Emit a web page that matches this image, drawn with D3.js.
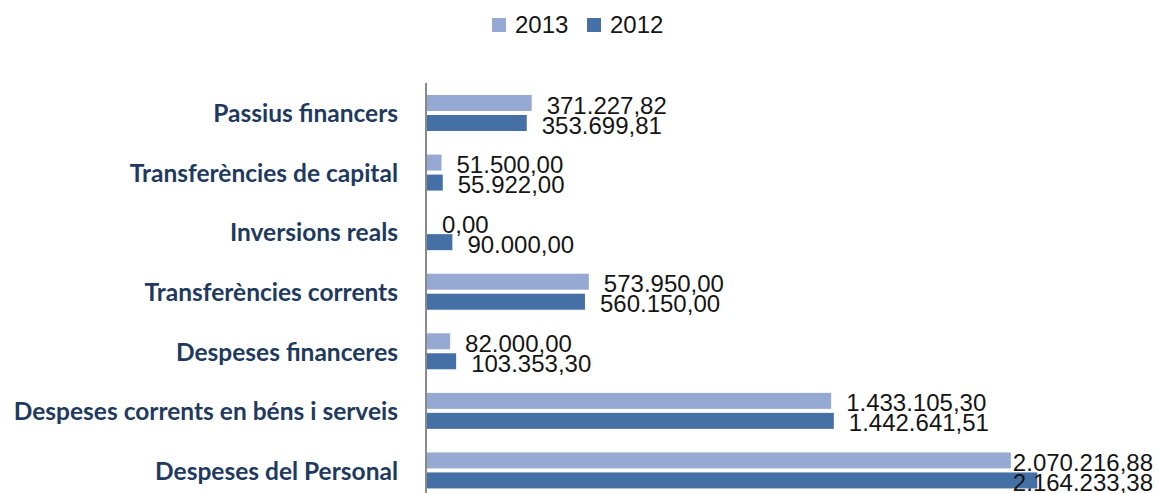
<!DOCTYPE html>
<html><head><meta charset="utf-8">
<script src="https://cdn.jsdelivr.net/npm/d3@7"></script>
<style>body{margin:0;background:#fff}svg{display:block}</style>
</head><body>
<svg id="c" width="1159" height="493"></svg>
<script>
const categories = ["Passius financers","Transferències de capital","Inversions reals","Transferències corrents","Despeses financeres","Despeses corrents en béns i serveis","Despeses del Personal"];
const seriesNames = ["2013","2012"];
const values2013 = [371227.82, 51500.00, 0.00, 573950.00, 82000.00, 1433105.30, 2070216.88];
const values2012 = [353699.81, 55922.00, 90000.00, 560150.00, 103353.30, 1442641.51, 2164233.38];
const labels2013 = ["371.227,82","51.500,00","0,00","573.950,00","82.000,00","1.433.105,30","2.070.216,88"];
const labels2012 = ["353.699,81","55.922,00","90.000,00","560.150,00","103.353,30","1.442.641,51","2.164.233,38"];
const colors = {"2013":"#95A9D3","2012":"#4470A6"};

const svg = d3.select("#c");
const W = 1159, H = 493;
const x = d3.scaleLinear().domain([0, 2500000]).range([427, 1132]);
const y = d3.scaleBand().domain(categories).range([83, 500]);
const sub = d3.scaleBand().domain(seriesNames).range([12, 48]).paddingInner(0.2);

const data = [];
categories.forEach((c,i)=>{
  data.push({cat:c, s:"2013", v:values2013[i], lab:labels2013[i]});
  data.push({cat:c, s:"2012", v:values2012[i], lab:labels2012[i]});
});

// bars
svg.append("g").selectAll("rect").data(data).join("rect")
  .attr("x", x(0))
  .attr("y", d=>y(d.cat)+sub(d.s))
  .attr("width", d=>x(d.v)-x(0))
  .attr("height", sub.bandwidth())
  .attr("fill", d=>colors[d.s]);

// axis line
svg.append("line").attr("x1",426).attr("x2",426).attr("y1",83).attr("y2",H)
  .attr("stroke","#8a8a8a").attr("stroke-width",2);

// category labels
svg.append("g").selectAll("text").data(categories).join("text")
  .attr("x", 398).attr("y", d=>y(d)+y.bandwidth()/2)
  .attr("text-anchor","end").attr("dominant-baseline","central")
  .style("font-family","Lato, 'Open Sans', sans-serif").style("font-weight","bold")
  .style("font-size","24.5px").attr("fill","#1F3A60")
  .text(d=>d);

// value labels
const vl = svg.append("g").selectAll("text").data(data).join("text")
  .attr("y", d=>y(d.cat)+sub(d.s)+sub.bandwidth()/2+2)
  .attr("dominant-baseline","central")
  .style("font-family","'Liberation Sans', Arial, sans-serif")
  .style("font-size","24px").attr("fill","#151515")
  .text(d=>d.lab);
vl.each(function(d){
  const w = this.getComputedTextLength();
  const px = Math.min(x(d.v)+15, 1153 - w);
  d3.select(this).attr("x", px);
});

// legend
const leg = svg.append("g");
const legX = [492, 587];
seriesNames.forEach((s,i)=>{
  leg.append("rect").attr("x",legX[i]).attr("y",18).attr("width",14).attr("height",14).attr("fill",colors[s]);
  leg.append("text").attr("x",legX[i]+23).attr("y",33)
    .style("font-family","'Liberation Sans', Arial, sans-serif").style("font-size","24px").attr("fill","#151515")
    .text(s);
});
</script>
</body></html>
